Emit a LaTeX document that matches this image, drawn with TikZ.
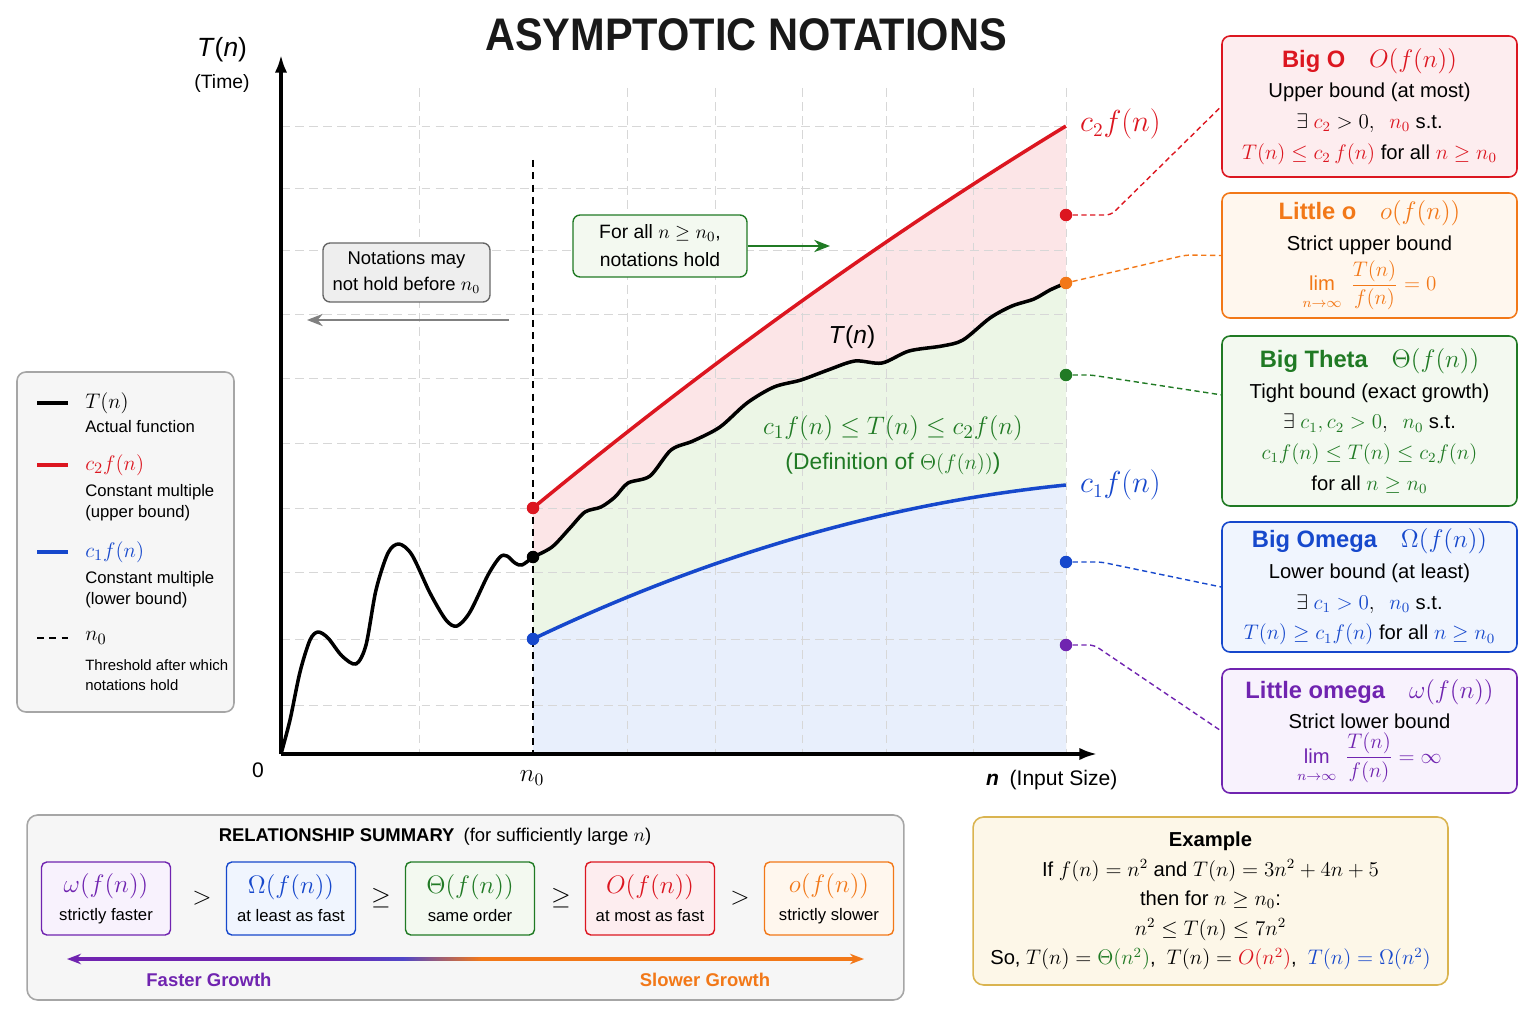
\documentclass[tikz,border=0pt]{standalone}
\usepackage{amsmath}
\usepackage{amssymb}
\usepackage{graphicx}
\usepackage{fontspec}
\setmainfont{Liberation Sans}
\usepackage{tikz}
\usetikzlibrary{positioning}
\usetikzlibrary{arrows.meta}

\definecolor{cRed}{RGB}{220,22,32}
\definecolor{cOrange}{RGB}{242,120,24}
\definecolor{cGreen}{RGB}{32,122,36}
\definecolor{cBlue}{RGB}{22,72,204}
\definecolor{cPurple}{RGB}{112,36,176}
\definecolor{cMid}{RGB}{80,70,200}
\definecolor{cGold}{RGB}{218,180,80}
\definecolor{tRed}{RGB}{253,237,239}
\definecolor{tOrange}{RGB}{255,247,238}
\definecolor{tGreen}{RGB}{243,249,240}
\definecolor{tBlue}{RGB}{240,245,254}
\definecolor{tPurple}{RGB}{248,242,253}
\definecolor{tGray}{RGB}{246,246,246}
\definecolor{tNote}{RGB}{238,238,238}
\definecolor{tYellow}{RGB}{253,247,232}
\definecolor{fRed}{RGB}{252,229,231}
\definecolor{fGreen}{RGB}{236,246,230}
\definecolor{fBlue}{RGB}{232,239,252}
\definecolor{gridgray}{RGB}{215,215,215}

\pgfdeclarehorizontalshading{growth}{100bp}{color(0bp)=(cPurple); color(41bp)=(cPurple); color(46bp)=(cMid); color(51bp)=(cOrange); color(100bp)=(cOrange)}

\newcommand{\headline}[3]{\textcolor{#1}{\fontsize{13.5}{16}\selectfont\textbf{#2}\quad$#3$}}
\newcommand{\limratio}[1]{$\displaystyle\lim_{\raisebox{-3pt}{$\scriptstyle n\to\infty$}}\ \frac{T(n)}{f(n)} = #1$}

\tikzset{
  gridline/.style={gridgray, dash pattern=on 5pt off 3pt, line width=0.5pt},
  axis/.style={line width=1.8pt, -{Latex[length=10pt,width=7pt]}},
  curve/.style={line width=2pt, line join=round},
  dot/.style={circle, inner sep=0pt, minimum size=0.25cm},
  link/.style={dash pattern=on 3pt off 2pt, line width=0.8pt, rounded corners=3pt},
  notebox/.style={rounded corners=4.5pt, line width=0.9pt, align=center, inner sep=0pt,
    minimum width=5.9cm, font=\fontsize{11.5}{17.5}\selectfont},
  sumbox/.style={rounded corners=3pt, line width=0.8pt, align=center, inner sep=0pt,
    minimum width=2.58cm, minimum height=1.46cm, font=\fontsize{9.5}{16}\selectfont},
  legtext/.style={anchor=west, inner sep=0pt, align=left, font=\fontsize{9.5}{12}\selectfont}
}

\begin{document}
\begin{tikzpicture}[x=0.02cm,y=-0.02cm]
\useasboundingbox (0,0) rectangle (1536,1024);

% regions after n0
\fill[fRed] plot[domain=0:1, samples=40] ({533+533*\x},{508-382*\x*(1.15-0.15*\x)}) -- (1066,754) -- (533,754) -- cycle;
\fill[fGreen] plot[smooth] coordinates {(533,557) (552,547) (570,528) (585,512) (601,507) (615,497) (628,483) (650,476) (671,450) (693,441) (720,427) (747,403) (774,387) (801,380) (828,370) (855,361) (882,363) (909,351) (942,346) (963,340) (990,318) (1012,306) (1034,299) (1050,290) (1066,283)} -- (1066,754) -- (533,754) -- cycle;
\fill[fBlue] plot[domain=0:1, samples=40] ({533+533*\x},{639-154*\x*(1.65-0.65*\x)}) -- (1066,754) -- (533,754) -- cycle;

% grid
\foreach \gx in {419,627,715,802,886,973,1066}
    \draw[gridline] (\gx,88) -- (\gx,754);
\foreach \gy in {126,188,250,314,378,443,508,572,639,705}
    \draw[gridline] (281,\gy) -- (1066,\gy);

% axes
\coordinate (O) at (281,754);
\coordinate (ytip) at (281,55);
\coordinate (xtip) at (1097,754);
\coordinate (n0top) at (533,160);
\coordinate (n0foot) at (533,754);
\draw[dash pattern=on 4pt off 3pt, line width=0.8pt] (n0top) -- (n0foot);
\draw[axis] (O) -- (ytip);
\draw[axis] (O) -- (xtip);

% curves
\draw[curve] plot[smooth] coordinates {(281,754) (290,720) (300,672) (310,640) (318,632) (328,638) (342,656) (356,664) (366,645) (376,590) (388,553) (399,544) (412,555) (430,593) (446,620) (457,626) (470,612) (488,575) (500,557) (507,556) (515,563) (522,565) (533,557)};
\draw[curve] plot[smooth] coordinates {(533,557) (552,547) (570,528) (585,512) (601,507) (615,497) (628,483) (650,476) (671,450) (693,441) (720,427) (747,403) (774,387) (801,380) (828,370) (855,361) (882,363) (909,351) (942,346) (963,340) (990,318) (1012,306) (1034,299) (1050,290) (1066,283)};
\draw[curve, cRed] plot[domain=0:1, samples=40] ({533+533*\x},{508-382*\x*(1.15-0.15*\x)});
\draw[curve, cBlue] plot[domain=0:1, samples=40] ({533+533*\x},{639-154*\x*(1.65-0.65*\x)});

\node[dot, fill=cRed] (c2start) at (533,508) {};
\node[dot, fill=black] (Tstart) at (533,557) {};
\node[dot, fill=cBlue] (c1start) at (533,639) {};

% axis and curve labels
\node[font=\fontsize{26}{26}\selectfont\bfseries, text=black!90] (title) at (746,35) {\scalebox{0.91}[1]{ASYMPTOTIC NOTATIONS}};
\node[font=\fontsize{15}{15}\selectfont] (Tlab) at (222,50) {\textit{T}(\textit{n})};
\node[font=\fontsize{11}{11}\selectfont] (timelab) at (222,83) {(Time)};
\node[font=\fontsize{12}{12}\selectfont] (zero) at (258,770) {0};
\node[font=\fontsize{14}{14}\selectfont] (n0lab) at (532,778) {$n_0$};
\node[anchor=west, font=\fontsize{12}{12}\selectfont] (xlab) at (980,780) {\textbf{\textit{n}}\enspace(Input Size)};
\node[anchor=west, font=\fontsize{16}{16}\selectfont] (c2lab) at (1074,124) {$\color{cRed}c_2 f(n)$};
\node[anchor=west, font=\fontsize{16}{16}\selectfont] (c1lab) at (1074,485) {$\color{cBlue}c_1 f(n)$};
\node[font=\fontsize{14}{14}\selectfont] (Tcurvelab) at (852,337) {\textit{T}(\textit{n})};
\node[text=cGreen, align=center, font=\fontsize{13}{20}\selectfont] (thetadef) at (893,445) {{\fontsize{15.5}{20}\selectfont$c_1 f(n) \le T(n) \le c_2 f(n)$}\\(Definition of $\Theta(f(n))$)};

% notes on n0
\node[draw=gray!80!black, fill=tNote, rounded corners=4pt, line width=0.8pt, align=center, inner sep=0pt,
  minimum width=3.34cm, minimum height=1.18cm, font=\fontsize{10.5}{15}\selectfont] (before) at (406.5,272.5) {Notations may\\not hold before $n_0$};
\coordinate (beforeS) at (509,320);
\coordinate (beforeE) at (307,320);
\draw[gray, line width=1pt, -{Stealth[length=9pt,width=7pt]}] (beforeS) -- (beforeE);
\node[draw=cGreen, fill=tGreen, rounded corners=4pt, line width=0.8pt, align=center, inner sep=0pt,
  minimum width=3.48cm, minimum height=1.24cm, font=\fontsize{11}{16}\selectfont] (after) at (660,246) {For all $n \ge n_0$,\\notations hold};
\coordinate (afterE) at (830,246);
\draw[cGreen, line width=1pt, -{Stealth[length=9pt,width=7pt]}] (after) -- (afterE);

% legend
\node[draw=gray!70, fill=tGray, rounded corners=5pt, line width=0.9pt, minimum width=4.34cm, minimum height=6.8cm] (legend) at (125.5,542) {};
\draw[line width=1.8pt] (37,403) -- (68,403);
\node[anchor=west, inner sep=0pt, font=\fontsize{13}{13}\selectfont] (lgT) at (85,403) {$T(n)$};
\node[legtext] (lgTd) at (85,427) {Actual function};
\draw[line width=1.8pt, cRed] (37,465) -- (68,465);
\node[anchor=west, inner sep=0pt, font=\fontsize{13}{13}\selectfont] (lgR) at (85,465) {$\color{cRed}c_2 f(n)$};
\node[legtext] (lgRd) at (85,503) {Constant multiple\\(upper bound)};
\draw[line width=1.8pt, cBlue] (37,552) -- (68,552);
\node[anchor=west, inner sep=0pt, font=\fontsize{13}{13}\selectfont] (lgB) at (85,552) {$\color{cBlue}c_1 f(n)$};
\node[legtext] (lgBd) at (85,590) {Constant multiple\\(lower bound)};
\draw[dash pattern=on 4pt off 3pt, line width=0.8pt] (37,638) -- (68,638);
\node[anchor=west, inner sep=0pt, font=\fontsize{13}{13}\selectfont] (lgN) at (85,638) {$n_0$};
\node[legtext, font=\fontsize{8.5}{11.5}\selectfont] (lgNd) at (85,675) {Threshold after which\\notations hold};

% notation boxes
\node[notebox, draw=cRed, fill=tRed, minimum height=2.82cm] (bigO) at (1369.5,106.5)
  {\headline{cRed}{Big O}{O(f(n))}\\ Upper bound (at most)\\ $\exists\ \textcolor{cRed}{c_2} > 0,\ \ \textcolor{cRed}{n_0}$ s.t.\\ \textcolor{cRed}{$T(n) \le c_2\,f(n)$} for all \textcolor{cRed}{$n \ge n_0$}};
\node[notebox, draw=cOrange, fill=tOrange, minimum height=2.5cm] (litO) at (1369.5,255.5)
  {\headline{cOrange}{Little o}{o(f(n))}\\ Strict upper bound\\[2pt] \textcolor{cOrange}{\limratio{0}}};
\node[notebox, draw=cGreen, fill=tGreen, minimum height=3.4cm] (bigT) at (1369.5,421)
  {\headline{cGreen}{Big Theta}{\Theta(f(n))}\\ Tight bound (exact growth)\\ $\exists\ \textcolor{cGreen}{c_1, c_2 > 0},\ \ \textcolor{cGreen}{n_0}$ s.t.\\ \textcolor{cGreen}{$c_1 f(n) \le T(n) \le c_2 f(n)$}\\ for all \textcolor{cGreen}{$n \ge n_0$}};
\node[notebox, draw=cBlue, fill=tBlue, minimum height=2.6cm] (bigW) at (1369.5,587)
  {\headline{cBlue}{Big Omega}{\Omega(f(n))}\\ Lower bound (at least)\\ $\exists\ \textcolor{cBlue}{c_1 > 0},\ \ \textcolor{cBlue}{n_0}$ s.t.\\ \textcolor{cBlue}{$T(n) \ge c_1 f(n)$} for all \textcolor{cBlue}{$n \ge n_0$}};
\node[notebox, draw=cPurple, fill=tPurple, minimum height=2.48cm] (litW) at (1369.5,731)
  {\headline{cPurple}{Little omega}{\omega(f(n))}\\ Strict lower bound\\[2pt] \textcolor{cPurple}{\limratio{\infty}}};

% markers on the right edge
\node[dot, fill=cRed] (dotBigO) at (1066,215) {};
\node[dot, fill=cOrange] (dotLitO) at (1066,283) {};
\node[dot, fill=cGreen] (dotBigT) at (1066,375) {};
\node[dot, fill=cBlue] (dotBigW) at (1066,562) {};
\node[dot, fill=cPurple] (dotLitW) at (1066,645) {};
\draw[link, cRed] (dotBigO) -- ++(45,0) -- (bigO.west);
\draw[link, cOrange] (dotLitO) -- ++(120,-28) -- (litO.west);
\draw[link, cGreen] (dotBigT) -- ++(25,0) -- (bigT.170);
\draw[link, cBlue] (dotBigW) -- ++(35,0) -- (bigW.west);
\draw[link, cPurple] (dotLitW) -- ++(28,0) -- (litW.west);

% relationship summary
\node[draw=gray!70, fill=tGray, rounded corners=6pt, line width=0.9pt, minimum width=17.54cm, minimum height=3.7cm] (summary) at (465.5,907.5) {};
\node[font=\fontsize{10.5}{10.5}\selectfont] (sumtitle) at (435,837) {\textbf{RELATIONSHIP SUMMARY}\enspace(for sufficiently large $n$)};
\foreach \nm/\cx/\col/\tnt/\sym/\txt in {sw/106/cPurple/tPurple/\omega/strictly faster, sW/291/cBlue/tBlue/\Omega/at least as fast, sT/470/cGreen/tGreen/\Theta/same order, sO/650/cRed/tRed/O/at most as fast, so/829/cOrange/tOrange/o/strictly slower}
    \node[sumbox, draw=\col, fill=\tnt] (\nm) at (\cx,898.5) {\textcolor{\col}{\fontsize{13.5}{16}\selectfont$\sym(f(n))$}\\\txt};
\foreach \nm/\cx/\rel in {r1/202/>, r2/381/\geq, r3/561/\geq, r4/740/>}
    \node[font=\fontsize{14}{14}\selectfont] (\nm) at (\cx,898) {$\rel$};
\coordinate (fastEnd) at (67,959);
\coordinate (fastStart) at (80,959);
\coordinate (slowEnd) at (864,959);
\coordinate (slowStart) at (851,959);
\shade[shading=growth] (76,957.8) rectangle (855,960.2);
\draw[cPurple, line width=1.2pt, -{Stealth[length=8pt,width=6pt]}] (fastStart) -- (fastEnd);
\draw[cOrange, line width=1.2pt, -{Stealth[length=8pt,width=6pt]}] (slowStart) -- (slowEnd);
\node[text=cPurple, font=\bfseries\fontsize{10.5}{10.5}\selectfont] (fastlab) at (209,980) {Faster Growth};
\node[text=cOrange, font=\bfseries\fontsize{10.5}{10.5}\selectfont] (slowlab) at (705,980) {Slower Growth};

% example
\node[draw=cGold, fill=tYellow, rounded corners=6pt, line width=0.9pt, minimum width=9.5cm, minimum height=3.36cm,
  align=center, inner sep=0pt, font=\fontsize{11.5}{16.8}\selectfont] (example) at (1210.5,901)
  {\textbf{Example}\\ If $f(n) = n^2$ and $T(n) = 3n^2 + 4n + 5$\\ then for $n \ge n_0$:\\ $n^2 \le T(n) \le 7n^2$\\
   So, $T(n) = \textcolor{cGreen}{\Theta(n^2)}$,\ \ $T(n) = \textcolor{cRed}{O(n^2)}$,\ \ \textcolor{cBlue}{$T(n) = \Omega(n^2)$}};
\end{tikzpicture}
\end{document}
